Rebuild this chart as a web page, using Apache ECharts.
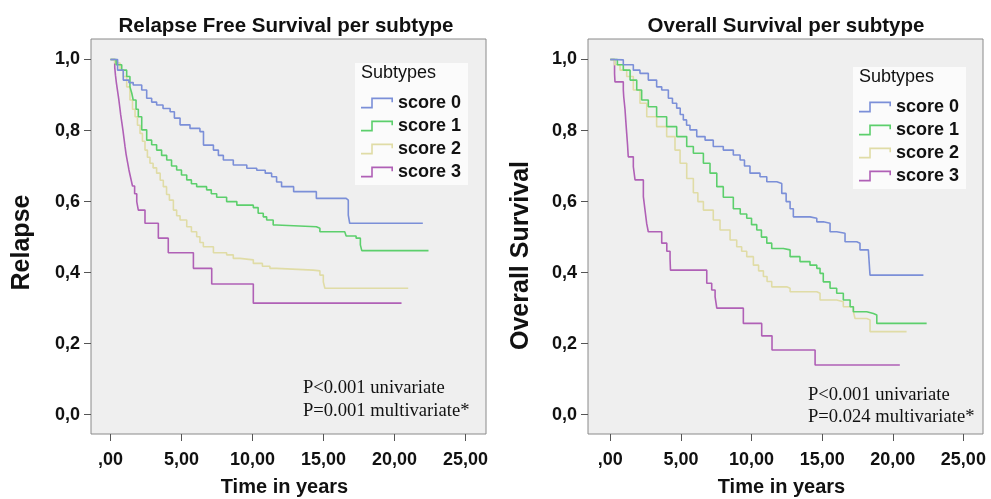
<!DOCTYPE html>
<html>
<head>
<meta charset="utf-8">
<script src="https://cdn.jsdelivr.net/npm/echarts@6/dist/echarts.min.js"></script>
<style>
html,body{margin:0;padding:0;background:#fff;}
#chart{width:991px;height:499px;}
</style>
</head>
<body>
<div id="chart"></div>
<script>
// ---------- data ----------
const seriesNames = ['score 0', 'score 1', 'score 2', 'score 3'];
const chartTitles = ['Relapse Free Survival per subtype', 'Overall Survival per subtype'];
const yAxisNames = ['Relapse', 'Overall Survival'];
const xAxisName = 'Time in years';
const legendTitle = 'Subtypes';
const pTextLeft = ['P<0.001 univariate', 'P=0.001 multivariate*'];
const pTextRight = ['P<0.001 univariate', 'P=0.024 multivariate*'];

const xTickValues = [0, 5, 10, 15, 20, 25];
const xTickLabels = [',00', '5,00', '10,00', '15,00', '20,00', '25,00'];
const yTickValues = [0, 0.2, 0.4, 0.6, 0.8, 1.0];
const yTickLabels = ['0,0', '0,2', '0,4', '0,6', '0,8', '1,0'];

// Relapse free survival (left)
const rfs0 = [[0,1],[0.5,0.97],[0.9,0.942],[1.3,0.935],[1.6,0.928],[2.2,0.914],[2.55,0.891],[2.9,0.88],[3.25,0.872],[3.7,0.862],[4.2,0.853],[4.5,0.835],[4.9,0.816],[5.6,0.806],[6.3,0.797],[6.55,0.759],[7.25,0.745],[7.6,0.73],[7.95,0.717],[8.65,0.703],[9.6,0.694],[10.3,0.688],[10.9,0.68],[11.35,0.67],[11.7,0.655],[12.05,0.642],[12.9,0.628],[14.5,0.609],[16.6,0.604],[16.75,0.562],[16.85,0.539],[22.0,0.539]];
const rfs1 = [[0,1],[0.4,0.985],[0.79,0.97],[1.14,0.952],[1.37,0.923],[1.5,0.905],[1.6,0.886],[1.8,0.86],[1.96,0.839],[2.2,0.802],[2.55,0.773],[2.9,0.76],[3.25,0.745],[3.6,0.73],[3.96,0.717],[4.3,0.7],[4.66,0.689],[5.0,0.675],[5.37,0.661],[5.7,0.65],[6.07,0.642],[6.77,0.633],[7.1,0.622],[7.48,0.612],[8.18,0.6],[8.9,0.59],[10.06,0.583],[10.4,0.567],[10.76,0.557],[11.0,0.548],[11.46,0.534],[11.7,0.529],[14.5,0.525],[14.75,0.515],[16.5,0.511],[16.6,0.503],[17.3,0.497],[17.6,0.478],[17.7,0.462],[22.4,0.462]];
const rfs2 = [[0,1],[0.3,0.99],[0.67,0.97],[0.9,0.952],[1.14,0.923],[1.37,0.886],[1.55,0.86],[1.73,0.839],[1.9,0.815],[2.08,0.792],[2.25,0.77],[2.43,0.745],[2.6,0.725],[2.78,0.708],[3.0,0.695],[3.25,0.68],[3.5,0.66],[3.72,0.642],[3.95,0.62],[4.15,0.604],[4.43,0.576],[4.66,0.56],[4.9,0.548],[5.37,0.529],[5.7,0.515],[6.07,0.501],[6.3,0.485],[6.54,0.473],[7.25,0.456],[8.18,0.45],[8.65,0.44],[9.12,0.436],[10.06,0.426],[10.7,0.418],[11.23,0.412],[11.7,0.407],[14.28,0.405],[14.75,0.393],[14.99,0.374],[15.1,0.356],[20.97,0.356]];
const rfs3 = [[0,1],[0.3,0.978],[0.35,0.956],[0.42,0.933],[0.5,0.911],[0.58,0.889],[0.65,0.867],[0.72,0.844],[0.8,0.822],[0.88,0.8],[0.95,0.778],[1.02,0.756],[1.1,0.733],[1.2,0.711],[1.3,0.689],[1.42,0.667],[1.55,0.644],[1.7,0.622],[1.85,0.6],[1.96,0.576],[2.43,0.539],[3.37,0.497],[4.07,0.456],[5.84,0.412],[7.13,0.368],[10.06,0.314],[20.5,0.314]];

// Overall survival (right)
const os0 = [[0,1],[0.21,0.999],[0.92,0.985],[1.63,0.97],[2.1,0.961],[2.69,0.942],[3.28,0.923],[3.64,0.914],[4.11,0.891],[4.4,0.877],[4.7,0.863],[4.95,0.845],[5.17,0.83],[5.4,0.815],[5.64,0.802],[6.12,0.783],[6.71,0.773],[7.29,0.755],[8.0,0.745],[8.71,0.731],[9.19,0.717],[9.5,0.7],[9.89,0.68],[10.6,0.67],[11.08,0.656],[11.79,0.651],[12.14,0.623],[12.45,0.6],[12.73,0.58],[12.96,0.557],[14.14,0.553],[14.62,0.543],[15.08,0.539],[15.56,0.515],[16.03,0.511],[16.62,0.487],[17.45,0.483],[17.68,0.464],[18.27,0.459],[18.39,0.393],[22.17,0.393]];
const os1 = [[0,1],[0.5,0.985],[0.92,0.97],[1.4,0.942],[1.87,0.914],[2.22,0.886],[2.69,0.867],[3.28,0.839],[3.99,0.811],[4.7,0.783],[5.41,0.755],[5.88,0.736],[6.59,0.708],[7.06,0.68],[7.54,0.642],[8.0,0.612],[8.71,0.58],[9.2,0.565],[9.66,0.553],[10.0,0.535],[10.37,0.52],[10.7,0.5],[11.08,0.483],[11.43,0.468],[12.25,0.464],[12.73,0.445],[13.43,0.431],[14.14,0.421],[14.62,0.412],[14.85,0.398],[15.08,0.374],[15.56,0.356],[16.03,0.342],[16.5,0.323],[16.98,0.304],[17.21,0.29],[18.16,0.285],[18.63,0.281],[18.87,0.257],[22.4,0.257]];
const os2 = [[0,1],[0.3,0.985],[0.69,0.97],[1.16,0.952],[1.63,0.914],[2.1,0.877],[2.58,0.839],[3.28,0.811],[3.99,0.783],[4.58,0.745],[4.94,0.708],[5.41,0.665],[5.88,0.625],[6.2,0.6],[6.59,0.576],[7.29,0.548],[7.77,0.52],[8.48,0.492],[8.95,0.473],[9.3,0.46],[9.66,0.445],[10.13,0.421],[10.5,0.405],[10.84,0.389],[11.1,0.375],[11.43,0.36],[12.49,0.356],[12.73,0.346],[14.62,0.342],[14.85,0.323],[16.03,0.318],[16.5,0.304],[17.21,0.29],[17.33,0.271],[18.16,0.267],[18.39,0.234],[20.98,0.234]];
const os3 = [[0,1],[0.3,0.96],[0.33,0.937],[0.92,0.915],[0.95,0.895],[1.04,0.86],[1.1,0.825],[1.16,0.792],[1.22,0.76],[1.27,0.726],[1.63,0.698],[1.75,0.661],[2.34,0.614],[2.46,0.575],[2.58,0.537],[2.69,0.515],[3.64,0.483],[4.0,0.46],[4.23,0.44],[4.26,0.407],[6.83,0.37],[7.18,0.351],[7.42,0.332],[7.54,0.3],[9.42,0.257],[10.72,0.222],[11.45,0.182],[14.5,0.14],[20.5,0.14]];

const leftData = [rfs0, rfs1, rfs2, rfs3];
const rightData = [os0, os1, os2, os3];

// ---------- style ----------
const colors = ['#7b8fd8', '#5ccf6c', '#e0dca6', '#b060b6'];
const SANS = '"Liberation Sans", Arial, Helvetica, sans-serif';
const SERIF = '"Liberation Serif", "Times New Roman", serif';
const legendIcon = 'path://M0,9.5 L10.2,9.5 L10.2,0.5 L32,0.5 L32,5 L30.4,5 L30.4,2.1 L11.8,2.1 L11.8,11.1 L0,11.1 Z';

const chart = echarts.init(document.getElementById('chart'), null, {renderer: 'canvas'});

function xAxisCfg(gridIndex, min, max) {
  return {
    type: 'value', gridIndex, min, max,
    name: xAxisName, nameLocation: 'middle', nameGap: 43,
    nameTextStyle: {fontFamily: SANS, fontWeight: 'bold', fontSize: 20, color: '#111', padding: [0, 8, 0, 0]},
    axisLine: {show: false, onZero: false},
    axisTick: {show: true, length: 7, customValues: xTickValues, lineStyle: {color: '#555', width: 1}},
    axisLabel: {
      customValues: xTickValues, margin: 17,
      fontFamily: SANS, fontWeight: 'bold', fontSize: 18, color: '#111',
      formatter: v => xTickLabels[xTickValues.indexOf(v)]
    },
    splitLine: {show: false}
  };
}
function yAxisCfg(gridIndex, name, nameGap, shift) {
  return {
    type: 'value', gridIndex, min: -0.0543, max: 1.0577,
    name, nameLocation: 'middle', nameGap,
    nameTextStyle: {fontFamily: SANS, fontWeight: 'bold', fontSize: 25, color: '#111', padding: [0, shift, 0, 0]},
    axisLine: {show: false, onZero: false},
    axisTick: {show: true, length: 7, customValues: yTickValues, lineStyle: {color: '#555', width: 1}},
    axisLabel: {
      customValues: yTickValues, margin: 11,
      fontFamily: SANS, fontWeight: 'bold', fontSize: 18, color: '#111',
      formatter: v => yTickLabels[yTickValues.findIndex(t => Math.abs(t - v) < 1e-6)]
    },
    splitLine: {show: false}
  };
}

const series = [];
[leftData, rightData].forEach((set, gi) => {
  set.forEach((d, i) => {
    series.push({
      type: 'line', name: seriesNames[i], xAxisIndex: gi, yAxisIndex: gi,
      data: d, step: 'end', symbol: 'none', showSymbol: false,
      lineStyle: {color: colors[i], width: 1.6},
      itemStyle: {color: colors[i]},
      z: 10 - i
    });
  });
});

function legendCfg(left, top) {
  return {
    data: seriesNames, orient: 'vertical', left, top,
    backgroundColor: '#fbfbfb', borderWidth: 0,
    padding: [31, 7, 4, 6], itemGap: 5,
    itemWidth: 32, itemHeight: 11, icon: legendIcon, symbolKeepAspect: false,
    itemStyle: {borderWidth: 0},
    textStyle: {fontFamily: SANS, fontWeight: 'bold', fontSize: 18, lineHeight: 18, color: '#111'},
    selectedMode: false
  };
}

const gridBase = {top: 39, width: 395, height: 395, show: true, backgroundColor: '#efefef',
  borderColor: '#8a8a8a', borderWidth: 1, containLabel: false, outerBoundsMode: 'none'};

const option = {
  backgroundColor: '#ffffff',
  animation: false,
  title: [
    {text: chartTitles[0], left: 281, top: 11, textAlign: 'center',
     textStyle: {fontFamily: SANS, fontWeight: 'bold', fontSize: 20.5, color: '#111'}},
    {text: chartTitles[1], left: 781, top: 11, textAlign: 'center',
     textStyle: {fontFamily: SANS, fontWeight: 'bold', fontSize: 20.5, color: '#111'}}
  ],
  grid: [
    Object.assign({left: 91}, gridBase),
    Object.assign({left: 588}, gridBase)
  ],
  xAxis: [xAxisCfg(0, -1.373, 26.45), xAxisCfg(1, -1.58, 26.39)],
  yAxis: [yAxisCfg(0, yAxisNames[0], 56, 12), yAxisCfg(1, yAxisNames[1], 54, 38)],
  legend: [legendCfg(355, 63), legendCfg(853, 67)],
  series,
  graphic: [
    {type: 'text', left: 361, top: 64, z: 100, style: {text: legendTitle, font: '18px ' + SANS, fill: '#111'}},
    {type: 'text', left: 859, top: 68, z: 100, style: {text: legendTitle, font: '18px ' + SANS, fill: '#111'}},
    {type: 'text', x: 303, y: 388, z: 100, style: {text: pTextLeft[0], font: '18.6px ' + SERIF, fill: '#111', verticalAlign: 'middle'}},
    {type: 'text', x: 303, y: 411, z: 100, style: {text: pTextLeft[1], font: '18.6px ' + SERIF, fill: '#111', verticalAlign: 'middle'}},
    {type: 'text', x: 808, y: 395, z: 100, style: {text: pTextRight[0], font: '18.6px ' + SERIF, fill: '#111', verticalAlign: 'middle'}},
    {type: 'text', x: 808, y: 417, z: 100, style: {text: pTextRight[1], font: '18.6px ' + SERIF, fill: '#111', verticalAlign: 'middle'}}
  ]
};
chart.setOption(option);
</script>
</body>
</html>
